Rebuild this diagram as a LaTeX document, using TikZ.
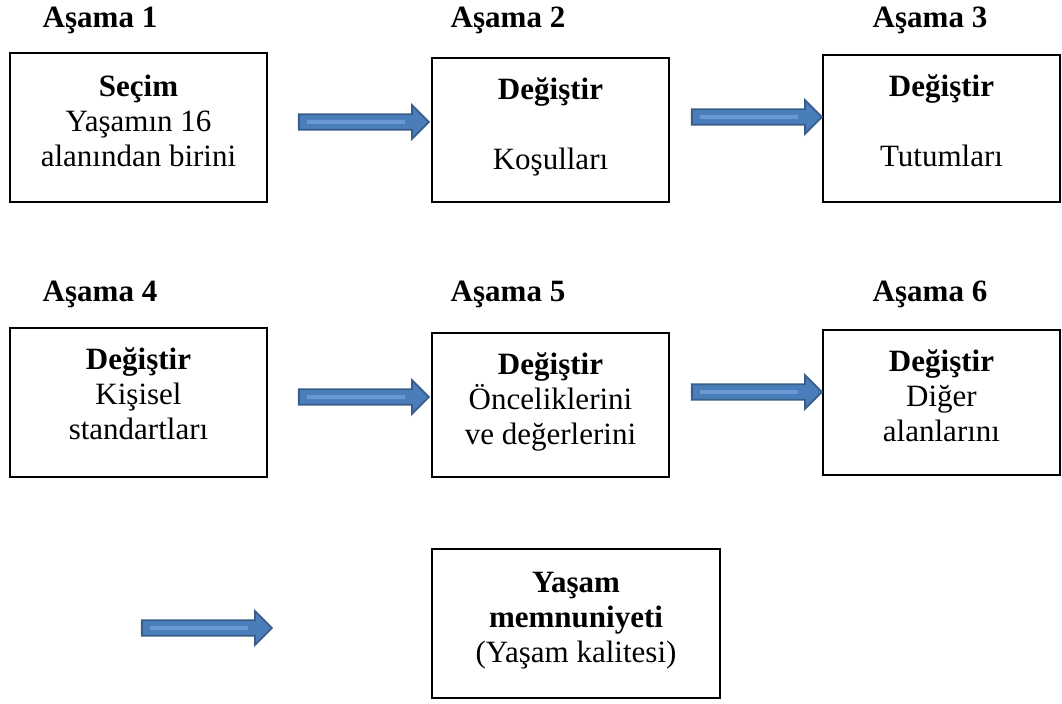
\documentclass[tikz,border=0pt]{standalone}
\usepackage{fontspec}
\setmainfont{Liberation Serif}
\usetikzlibrary{shapes.arrows}
\definecolor{arrowfill}{HTML}{4A7EBB}
\definecolor{arrowline}{HTML}{385D8A}
\definecolor{arrowlight}{HTML}{6A98D2}
\tikzset{
    box/.style={draw, thick},
    boxtext/.style={anchor=north, inner sep=0pt, align=center,
        font=\fontsize{15.5}{17.5}\selectfont},
    stage/.style={font=\fontsize{15.5}{17.5}\selectfont\bfseries},
    bigarrow/.style={single arrow, fill=arrowfill, draw=arrowline, line width=0.9pt,
        minimum height=65pt, minimum width=16pt, inner sep=3.4pt,
        single arrow head extend=4.6pt, shape border rotate=0,
        path picture={\draw[arrowlight, line width=1.6pt]
            ([xshift=4pt]path picture bounding box.west) --
            ([xshift=-12pt]path picture bounding box.east);}}
}

\begin{document}
\begin{tikzpicture}[x=0.5pt,y=-0.5pt]
    \useasboundingbox (0,0) rectangle (1062,704);

    % stage titles
    \node[stage] (t1) at (100,20) {Aşama 1};
    \node[stage] (t2) at (508,20) {Aşama 2};
    \node[stage] (t3) at (930,20) {Aşama 3};
    \node[stage] (t4) at (100,294) {Aşama 4};
    \node[stage] (t5) at (508,294) {Aşama 5};
    \node[stage] (t6) at (930,294) {Aşama 6};

    % boxes
    \node[box, minimum width=128.5pt, minimum height=74.5pt] (b1) at (138.5,127.5) {};
    \node[box, minimum width=118.5pt, minimum height=72pt] (b2) at (550.5,130) {};
    \node[box, minimum width=118.5pt, minimum height=73.5pt] (b3) at (941.5,128.5) {};
    \node[box, minimum width=128.5pt, minimum height=74.5pt] (b4) at (138.5,402.5) {};
    \node[box, minimum width=118.5pt, minimum height=72pt] (b5) at (550.5,405) {};
    \node[box, minimum width=118.5pt, minimum height=72.5pt] (b6) at (941.5,402.5) {};
    \node[box, minimum width=144pt, minimum height=74.5pt] (b7) at (576,623.5) {};

    % box texts
    \node[boxtext] (b1t) at ([yshift=-11pt]b1.north)
        {\textbf{Seçim}\\Yaşamın 16\\alanından birini};
    \node[boxtext] (b2t) at ([yshift=-10pt]b2.north)
        {\textbf{Değiştir}\\[17.5pt]Koşulları};
    \node[boxtext] (b3t) at ([yshift=-10pt]b3.north)
        {\textbf{Değiştir}\\[17.5pt]Tutumları};
    \node[boxtext] (b4t) at ([yshift=-10pt]b4.north)
        {\textbf{Değiştir}\\Kişisel\\standartları};
    \node[boxtext] (b5t) at ([yshift=-10pt]b5.north)
        {\textbf{Değiştir}\\Önceliklerini\\ve değerlerini};
    \node[boxtext] (b6t) at ([yshift=-10pt]b6.north)
        {\textbf{Değiştir}\\Diğer\\alanlarını};
    \node[boxtext] (b7t) at ([yshift=-12pt]b7.north)
        {\textbf{Yaşam}\\\textbf{memnuniyeti}\\(Yaşam kalitesi)};

    % arrows
    \node[bigarrow] (a1) at (360,122) {};
    \node[bigarrow] (a2) at (753,117) {};
    \node[bigarrow] (a3) at (360,397) {};
    \node[bigarrow] (a4) at (753,392) {};
    \node[bigarrow] (a5) at (203,628) {};
\end{tikzpicture}
\end{document}
